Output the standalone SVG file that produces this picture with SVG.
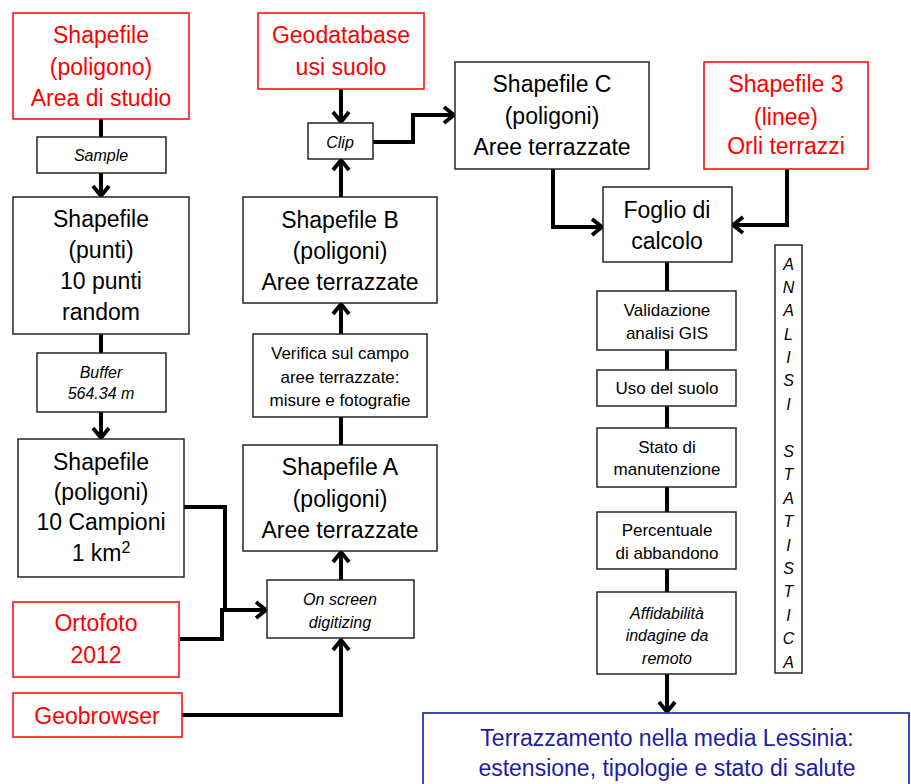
<svg xmlns="http://www.w3.org/2000/svg" width="911" height="784" viewBox="0 0 911 784">
<style>
  .bx{fill:#fff;stroke:#262626;stroke-width:1.5}
  .rb{fill:#fff;stroke:#ff0000;stroke-width:1.5}
  .bb{fill:#fff;stroke:#2a38a0;stroke-width:1.8}
  text{font-family:"Liberation Sans",Arial,sans-serif;text-anchor:middle;dominant-baseline:central}
  .t{font-size:23px;fill:#000}
  .r{font-size:23px;fill:#ff0000}
  .s{font-size:17px;fill:#000}
  .i{font-size:16px;font-style:italic;fill:#000}
  .v{font-size:16px;font-style:italic;fill:#000}
  .b{font-size:23px;fill:#1c1ca6}
  .c{fill:none;stroke:#000;stroke-width:4;stroke-linejoin:miter}
</style>
<defs>
  <marker id="ah" viewBox="-14 -10 16 20" markerWidth="16" markerHeight="20" refX="0" refY="0" orient="auto" markerUnits="userSpaceOnUse" overflow="visible">
    <path d="M-10,-8 L0,0 L-10,8" fill="none" stroke="#000" stroke-width="3.8" stroke-linecap="butt" stroke-linejoin="miter"/>
  </marker>
</defs>
<rect width="911" height="784" fill="#fff"/>

<g id="connectors">
  <path class="c" d="M101,119 V137"/>
  <path class="c" d="M101,173 V196" marker-end="url(#ah)"/>
  <path class="c" d="M101,334 V353"/>
  <path class="c" d="M101,412 V438" marker-end="url(#ah)"/>
  <path class="c" d="M184,507 H225 V610"/>
  <path class="c" d="M180,639 H222 V610 H266" marker-end="url(#ah)"/>
  <path class="c" d="M182,715 H341 V640" marker-end="url(#ah)"/>
  <path class="c" d="M341,580 V552" marker-end="url(#ah)"/>
  <path class="c" d="M341,445 V417"/>
  <path class="c" d="M341,334 V304" marker-end="url(#ah)"/>
  <path class="c" d="M341,197 V160" marker-end="url(#ah)"/>
  <path class="c" d="M341,89 V122" marker-end="url(#ah)"/>
  <path class="c" d="M373,142 H413 V115 H454" marker-end="url(#ah)"/>
  <path class="c" d="M553,169 V227 H602" marker-end="url(#ah)"/>
  <path class="c" d="M787,169 V225 H733" marker-end="url(#ah)"/>
  <path class="c" d="M667,262 V291"/>
  <path class="c" d="M667,350 V370"/>
  <path class="c" d="M667,406 V428"/>
  <path class="c" d="M667,487 V512"/>
  <path class="c" d="M667,569 V592"/>
  <path class="c" d="M667,674 V712" marker-end="url(#ah)"/>
</g>

<g id="area-studio">
  <rect class="rb" x="13" y="13" width="176" height="106"/>
  <text class="r" x="101" y="35">Shapefile</text>
  <text class="r" x="101" y="67">(poligono)</text>
  <text class="r" x="101" y="98">Area di studio</text>
</g>
<g id="sample">
  <rect class="bx" x="37" y="137" width="129" height="36"/>
  <text class="i" x="101" y="155">Sample</text>
</g>
<g id="shp-punti">
  <rect class="bx" x="13" y="197" width="176" height="137"/>
  <text class="t" x="101" y="219">Shapefile</text>
  <text class="t" x="101" y="250">(punti)</text>
  <text class="t" x="101" y="281">10 punti</text>
  <text class="t" x="101" y="312">random</text>
</g>
<g id="buffer">
  <rect class="bx" x="37" y="353" width="129" height="59"/>
  <text class="i" x="101" y="372">Buffer</text>
  <text class="i" x="101" y="393">564.34 m</text>
</g>
<g id="shp-campioni">
  <rect class="bx" x="18" y="439" width="166" height="138"/>
  <text class="t" x="101" y="462">Shapefile</text>
  <text class="t" x="101" y="492">(poligoni)</text>
  <text class="t" x="101" y="522">10 Campioni</text>
  <text class="t" x="101" y="553">1 km<tspan font-size="16" dy="-6">2</tspan></text>
</g>
<g id="ortofoto">
  <rect class="rb" x="13" y="602" width="166" height="75"/>
  <text class="r" x="96" y="623">Ortofoto</text>
  <text class="r" x="96" y="655">2012</text>
</g>
<g id="geobrowser">
  <rect class="rb" x="13" y="693" width="169" height="44"/>
  <text class="r" x="97" y="716">Geobrowser</text>
</g>
<g id="geodatabase">
  <rect class="rb" x="258" y="13" width="166" height="76"/>
  <text class="r" x="341" y="35">Geodatabase</text>
  <text class="r" x="341" y="67">usi suolo</text>
</g>
<g id="clip">
  <rect class="bx" x="308" y="123" width="65" height="36"/>
  <text class="i" x="340" y="142">Clip</text>
</g>
<g id="shp-b">
  <rect class="bx" x="243" y="197" width="194" height="106"/>
  <text class="t" x="340" y="220">Shapefile B</text>
  <text class="t" x="340" y="251">(poligoni)</text>
  <text class="t" x="340" y="282">Aree terrazzate</text>
</g>
<g id="verifica">
  <rect class="bx" x="253" y="334" width="174" height="83"/>
  <text class="s" x="340" y="353">Verifica sul campo</text>
  <text class="s" x="340" y="377">aree terrazzate:</text>
  <text class="s" x="340" y="400">misure e fotografie</text>
</g>
<g id="shp-a">
  <rect class="bx" x="243" y="445" width="194" height="106"/>
  <text class="t" x="340" y="467">Shapefile A</text>
  <text class="t" x="340" y="499">(poligoni)</text>
  <text class="t" x="340" y="530">Aree terrazzate</text>
</g>
<g id="onscreen">
  <rect class="bx" x="267" y="580" width="147" height="58"/>
  <text class="i" x="340" y="599">On screen</text>
  <text class="i" x="340" y="622">digitizing</text>
</g>
<g id="shp-c">
  <rect class="bx" x="455" y="62" width="194" height="107"/>
  <text class="t" x="552" y="84">Shapefile C</text>
  <text class="t" x="552" y="116">(poligoni)</text>
  <text class="t" x="552" y="147">Aree terrazzate</text>
</g>
<g id="shp-3">
  <rect class="rb" x="704" y="62" width="164" height="107"/>
  <text class="r" x="786" y="84">Shapefile 3</text>
  <text class="r" x="786" y="117">(linee)</text>
  <text class="r" x="786" y="146">Orli terrazzi</text>
</g>
<g id="foglio">
  <rect class="bx" x="603" y="187" width="129" height="75"/>
  <text class="t" x="667" y="210">Foglio di</text>
  <text class="t" x="667" y="241">calcolo</text>
</g>
<g id="validazione">
  <rect class="bx" x="597" y="291" width="139" height="59"/>
  <text class="s" x="667" y="310">Validazione</text>
  <text class="s" x="667" y="333">analisi GIS</text>
</g>
<g id="uso">
  <rect class="bx" x="597" y="370" width="139" height="36"/>
  <text class="s" x="667" y="388">Uso del suolo</text>
</g>
<g id="stato">
  <rect class="bx" x="597" y="428" width="139" height="59"/>
  <text class="s" x="667" y="447">Stato di</text>
  <text class="s" x="667" y="469">manutenzione</text>
</g>
<g id="percentuale">
  <rect class="bx" x="597" y="512" width="139" height="57"/>
  <text class="s" x="667" y="530">Percentuale</text>
  <text class="s" x="667" y="553">di abbandono</text>
</g>
<g id="affidabilita">
  <rect class="bx" x="597" y="592" width="139" height="82"/>
  <text class="i" x="667" y="613">Affidabilità</text>
  <text class="i" x="667" y="635">indagine da</text>
  <text class="i" x="667" y="658">remoto</text>
</g>
<g id="analisi">
  <rect class="bx" x="775" y="245" width="27" height="428"/>
  <text class="v" x="788.5" y="264">A</text>
  <text class="v" x="788.5" y="287">N</text>
  <text class="v" x="788.5" y="310">A</text>
  <text class="v" x="788.5" y="334">L</text>
  <text class="v" x="788.5" y="357">I</text>
  <text class="v" x="788.5" y="380">S</text>
  <text class="v" x="788.5" y="404">I</text>
  <text class="v" x="788.5" y="451">S</text>
  <text class="v" x="788.5" y="474">T</text>
  <text class="v" x="788.5" y="498">A</text>
  <text class="v" x="788.5" y="521">T</text>
  <text class="v" x="788.5" y="545">I</text>
  <text class="v" x="788.5" y="568">S</text>
  <text class="v" x="788.5" y="591">T</text>
  <text class="v" x="788.5" y="615">I</text>
  <text class="v" x="788.5" y="638">C</text>
  <text class="v" x="788.5" y="662">A</text>
</g>
<g id="risultato">
  <rect class="bb" x="423" y="713" width="486" height="90"/>
  <text class="b" x="667" y="738">Terrazzamento nella media Lessinia:</text>
  <text class="b" x="667" y="768">estensione, tipologie e stato di salute</text>
</g>
</svg>
